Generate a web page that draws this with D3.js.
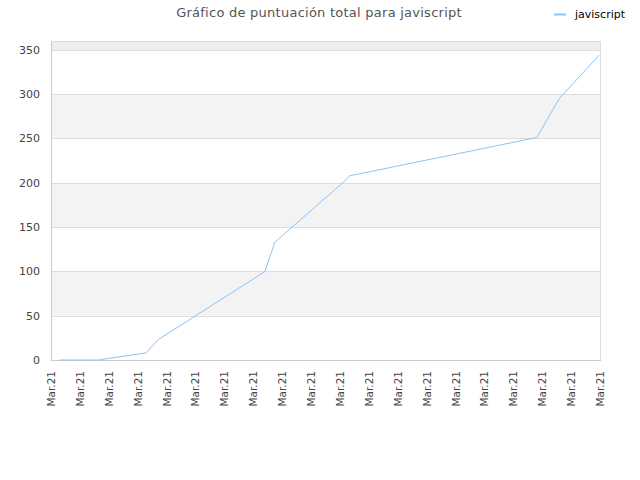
<!DOCTYPE html>
<html>
<head>
<meta charset="utf-8">
<script src="https://cdn.jsdelivr.net/npm/d3@7"></script>
<style>
	body { margin: 0; background: #fff; }
	text { font-family: "DejaVu Sans", sans-serif; }
</style>
</head>
<body>
<div id="diagram"></div>
<script>
// tick labels along the bottom (one per slot)
const tickLabels = [
	"Mar.21", "Mar.21", "Mar.21", "Mar.21", "Mar.21",
	"Mar.21", "Mar.21", "Mar.21", "Mar.21", "Mar.21",
	"Mar.21", "Mar.21", "Mar.21", "Mar.21", "Mar.21",
	"Mar.21", "Mar.21", "Mar.21", "Mar.21", "Mar.21"
];

// position of each reading, in tick slots
const slots = [0.29, 1.67, 2.02, 3.29, 3.71, 6.98, 7.40, 7.75, 10.06, 10.35, 16.81, 17.59, 18.97];
// total score
const scores = [0, 0, 2, 8, 23, 91, 100, 133, 199, 208, 251, 295, 344];

const yTicks = [0, 50, 100, 150, 200, 250, 300, 350];
const seriesName = "javiscript";

const width = 640;
const height = 480;
const plotLeft = 51, plotRight = 600, plotTop = 41, plotBottom = 360;

const svg = d3.select("#diagram")
	.append("svg")
	.attr("width", width)
	.attr("height", height);

const xScale = d3.scaleLinear()
	.domain([0, tickLabels.length - 1])
	.range([plotLeft, plotRight]);

const yScale = d3.scaleLinear()
	.domain([0, 360])
	.range([plotBottom, plotTop]);

// alternating bands
const bands = d3.range(0, 360, 50).map(d => [d, Math.min(d + 50, 360)]);
svg.selectAll("rect.band")
	.data(bands)
	.enter()
	.append("rect")
	.attr("x", plotLeft)
	.attr("width", plotRight - plotLeft)
	.attr("y", d => yScale(d[1]))
	.attr("height", d => yScale(d[0]) - yScale(d[1]))
	.attr("fill", (d, i) => i % 2 == 0 ? "#ffffff" : (d[0] == 350 ? "#eeeeee" : "#f3f3f3"));

// grid lines
svg.selectAll("line.grid")
	.data(yTicks.concat([360]))
	.enter()
	.append("line")
	.attr("x1", plotLeft)
	.attr("x2", plotRight)
	.attr("y1", d => Math.round(yScale(d)) + 0.5)
	.attr("y2", d => Math.round(yScale(d)) + 0.5)
	.attr("stroke", "#dddddd");

// frame
svg.append("line")
	.attr("x1", plotLeft + 0.5).attr("x2", plotLeft + 0.5)
	.attr("y1", plotTop).attr("y2", plotBottom + 1)
	.attr("stroke", "#cccccc");
svg.append("line")
	.attr("x1", plotRight + 0.5).attr("x2", plotRight + 0.5)
	.attr("y1", plotTop).attr("y2", plotBottom + 1)
	.attr("stroke", "#dddddd");
svg.append("line")
	.attr("x1", plotLeft).attr("x2", plotRight + 1)
	.attr("y1", plotBottom + 0.5).attr("y2", plotBottom + 0.5)
	.attr("stroke", "#cccccc");

// y labels
svg.selectAll("text.ylabel")
	.data(yTicks)
	.enter()
	.append("text")
	.text(d => d)
	.attr("text-anchor", "end")
	.attr("font-size", "11px")
	.attr("fill", "#444")
	.attr("x", 40)
	.attr("y", d => yScale(d) + 4);

// x labels, rotated
svg.selectAll("text.xlabel")
	.data(tickLabels)
	.enter()
	.append("text")
	.text(d => d)
	.attr("text-anchor", "end")
	.attr("font-size", "10.5px")
	.attr("fill", "#444")
	.attr("transform", (d, i) => `translate(${xScale(i) + 4},${plotBottom + 11}) rotate(-90)`);

// the line
const line = d3.line()
	.x(d => xScale(d[0]))
	.y(d => yScale(d[1]));

svg.append("path")
	.datum(slots.map((s, i) => [s, scores[i]]))
	.attr("d", line)
	.attr("fill", "none")
	.attr("stroke", "#90c2f2")
	.attr("stroke-width", 1);

// title
svg.append("text")
	.text("Gráfico de puntuación total para javiscript")
	.attr("x", 319)
	.attr("y", 17)
	.attr("text-anchor", "middle")
	.attr("font-size", "13px")
	.attr("letter-spacing", "0.25px")
	.attr("fill", "#555");

// legend
svg.append("line")
	.attr("x1", 554).attr("x2", 566)
	.attr("y1", 14.5).attr("y2", 14.5)
	.attr("stroke", "#90c2f2")
	.attr("stroke-width", 2);
svg.append("text")
	.text(seriesName)
	.attr("x", 575)
	.attr("y", 18)
	.attr("font-size", "11px")
	.attr("fill", "#000");
</script>
</body>
</html>
